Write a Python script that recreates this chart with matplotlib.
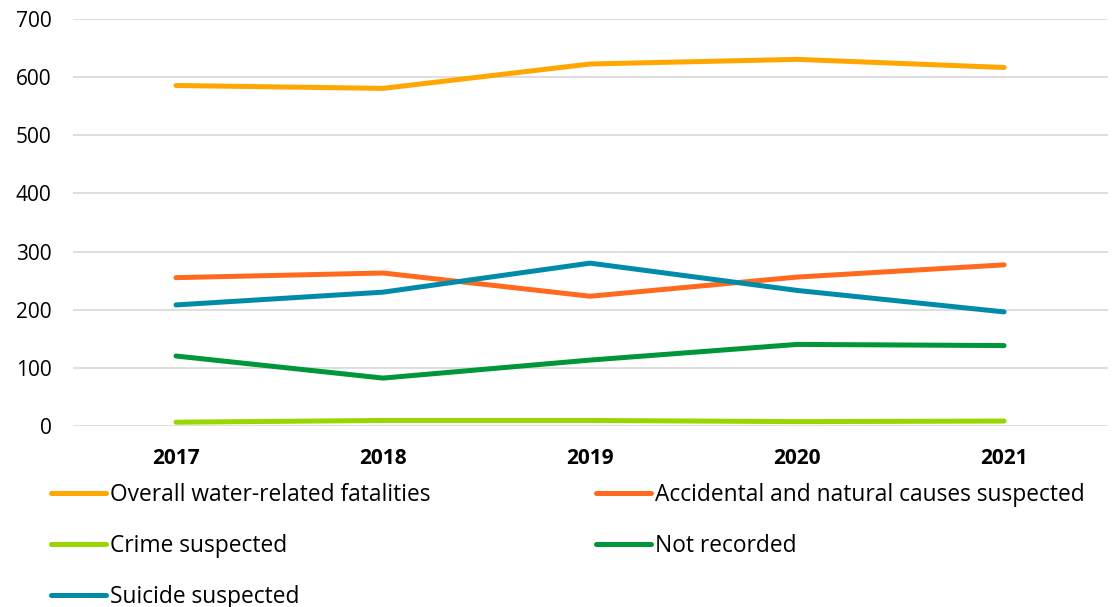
import matplotlib
matplotlib.use("Agg")
import matplotlib.pyplot as plt

plt.rcParams['font.family'] = ['Open Sans', 'DejaVu Sans']

years = ["2017", "2018", "2019", "2020", "2021"]
overall = [586, 581, 623, 631, 617]
accidental = [255, 263, 223, 256, 277]
crime = [6, 9, 9, 7, 8]
not_recorded = [120, 82, 113, 140, 138]
suicide = [208, 230, 280, 233, 196]

series = [
    ("Overall water-related fatalities", overall, "#FFA600"),
    ("Accidental and natural causes suspected", accidental, "#FF6A1F"),
    ("Crime suspected", crime, "#99D700"),
    ("Not recorded", not_recorded, "#00963A"),
    ("Suicide suspected", suicide, "#008CA8"),
]

fig = plt.figure(figsize=(11.12, 6.07), dpi=100)
ax = fig.add_axes([0.0652, 0.2987, 0.9308, 0.6695])
x = list(range(len(years)))
for label, vals, col in series:
    ax.plot(x, vals, color=col, linewidth=3.6, label=label,
            solid_capstyle="round", solid_joinstyle="round")

ax.set_xlim(-0.5, len(years) - 0.5)
ax.set_ylim(0, 700)
ax.set_yticks(range(0, 701, 100))
ax.set_xticks(x)
ax.set_xticklabels(years, fontweight="bold", fontsize=15)
ax.tick_params(axis="y", labelsize=15, length=0, pad=15)
ax.tick_params(axis="x", length=0, pad=16)
ax.grid(axis="y", color="#d9d9d9", linewidth=1.2)
ax.set_axisbelow(True)
for s in ax.spines.values():
    s.set_visible(False)

# legend filled row by row (matplotlib fills columns), so reorder
handles, labels = ax.get_legend_handles_labels()
order = [0, 2, 4, 1, 3]
fig.legend([handles[i] for i in order], [labels[i] for i in order],
           loc="upper left", bbox_to_anchor=(0.046, 0.205),
           ncol=2, frameon=False, fontsize=16.4, handlelength=2.41,
           handletextpad=0.17, labelspacing=1.2, columnspacing=7.28,
           borderaxespad=0, borderpad=0)

fig.savefig("out.png", dpi=100)
